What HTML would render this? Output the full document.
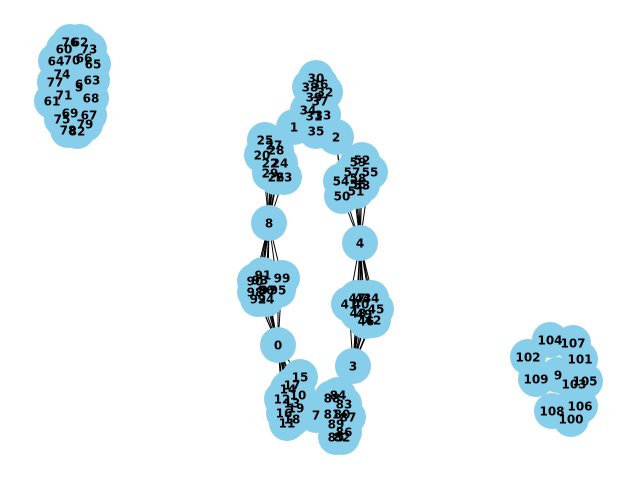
<!DOCTYPE html>
<html><head><meta charset="utf-8"><style>
html,body{margin:0;padding:0;background:#fff;width:640px;height:480px;overflow:hidden}
svg text{font-family:"DejaVu Sans","Liberation Sans",sans-serif;font-weight:bold;font-size:12px}
</style></head><body>
<svg id="g" width="640" height="480">
<g id="edges"></g>
<g id="nodes"></g>
<g id="labels"></g>
</svg>
<script>
const nodeIds=[76,62,60,73,64,70,66,65,74,77,63,6,5,71,61,68,69,75,67,79,78,82,
30,38,36,39,32,37,34,31,33,1,35,2,25,27,28,20,24,22,29,26,23,8,
52,59,57,55,58,54,56,53,51,50,4,
91,93,99,90,98,96,97,95,92,94,0,15,17,14,10,12,13,19,16,18,11,7,
84,88,83,81,80,87,89,86,85,82.5,3,47,43,44,41,40,48,49,45,46,42,
104,107,102,101,9,109,103,105,108,106,100];
const nodeX=[70,80,64,89,56,72,84,93,62,55,92,79,79,64,52,91,70,62,89,85,68,77,
316,310,320,314,325,320,308,314,323,294,316,336,265,274,276,262,280,270,270,276,284,269,
362,358,352,370,358,341,358,362,356,342,360,
263,260,282,255,255,266,268,278,258,266,278,300,292,288,298,282,292,296,284,292,287,316,
338,332,344,332,342,348,336,344,336,342,353,357,363,371,349,361,358,364,376,366,373,
550,573,528,580,558,536,574,585,552,580,571];
const nodeY=[42,42,49,49,61,60,58,64,74,82,80,84,87,95,101,98,113,119,115,124,130,131,
78,87,84,97,92,101,110,116,115,127,131,137,140,145,150,155,163,163,173,177,177,223,
160,162,172,172,178,181,184,185,191,196,243,
275,280,278,281,292,290,290,290,299,299,345,377,385,389,395,399,403,408,413,419,423,415,
395,398,404,414,414,417,424,432,437,437,366,298,298,298,304,304,313,314,309,321,320,
340,343,357,359,375,379,384,381,411,406,419];
const edgeSrc=[],edgeDst=[];
function grp(h,list){list.forEach(m=>{edgeSrc.push(h);edgeDst.push(m);});}
const hubGroups=[[8,[20,22,24,25,26,27,28,29,23,90,91,92,93,94,95,96,97,98,99]],
[0,[90,91,92,93,94,95,96,97,98,99,10,11,12,13,14,15,16,17,18,19]],
[4,[50,51,52,53,54,55,56,57,58,59,40,41,42,43,44,45,46,47,48,49]],
[3,[40,41,42,43,44,45,46,47,48,49,80,81,82.5,83,84,85,86,87,88,89]],
[1,[20,25,27,30,31,34,35]],[2,[35,33,50,52,54]],[7,[10,13,19,81,89]],[5,[60,64,71,74]],[9,[100,101,102,109]]];
hubGroups.forEach(g=>grp(g[0],g[1]));
const NS="http://www.w3.org/2000/svg";
const pos={};nodeIds.forEach((id,i)=>pos[id]=[nodeX[i],nodeY[i]]);
const E=document.getElementById('edges'),N=document.getElementById('nodes'),L=document.getElementById('labels');
edgeSrc.forEach((s,i)=>{const a=pos[s],b=pos[edgeDst[i]];if(!a||!b)return;
const l=document.createElementNS(NS,'line');
l.setAttribute('x1',a[0]);l.setAttribute('y1',a[1]);l.setAttribute('x2',b[0]);l.setAttribute('y2',b[1]);
l.setAttribute('stroke','#000');l.setAttribute('stroke-width','1');


E.appendChild(l);});
nodeIds.forEach((id,i)=>{const c=document.createElementNS(NS,'circle');
c.setAttribute('cx',nodeX[i]);c.setAttribute('cy',nodeY[i]);c.setAttribute('r',18);c.setAttribute('fill','#87ceeb');


N.appendChild(c);
const t=document.createElementNS(NS,'text');
t.setAttribute('x',nodeX[i]);t.setAttribute('y',nodeY[i]+4.5);t.setAttribute('text-anchor','middle');
t.textContent=String(Math.floor(id));


L.appendChild(t);});
</script>
</body></html>
